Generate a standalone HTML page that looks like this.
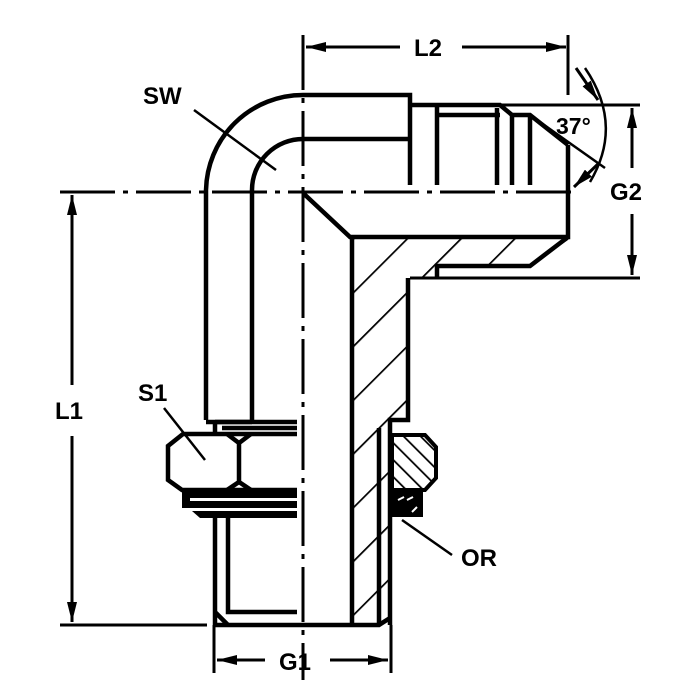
<!DOCTYPE html>
<html><head><meta charset="utf-8"><style>html,body{margin:0;padding:0;background:#fff}svg{display:block}</style></head>
<body>
<svg width="700" height="700" viewBox="0 0 700 700" xmlns="http://www.w3.org/2000/svg" font-family="Liberation Sans, Arial, sans-serif">
<defs>
<pattern id="h1" patternUnits="userSpaceOnUse" width="38" height="38" patternTransform="rotate(45)">
<line x1="0" y1="0" x2="0" y2="38" stroke="#000" stroke-width="3.5"/>
</pattern>
<pattern id="h2" patternUnits="userSpaceOnUse" width="12" height="12" patternTransform="rotate(-45)">
<line x1="0" y1="0" x2="0" y2="12" stroke="#000" stroke-width="3.5"/>
</pattern>
<marker id="ar" viewBox="0 0 20 10" refX="20" refY="5" markerWidth="20" markerHeight="10" markerUnits="userSpaceOnUse" orient="auto-start-reverse"><path d="M0,0 L20,5 L0,10 Z" fill="#000"/></marker>
</defs>
<g fill="none" stroke="#000" stroke-linecap="butt">
<path d="M352,237 L568,237 L568,240 L530,266 L437,266 L437,278 L408,278 L408,420 L390,420 L390,625 L352,625 Z" fill="url(#h1)" stroke="none"/>
<g stroke-width="4.5">
<path d="M303,193 L350,237 L568,237 L568,145"/>
<path d="M352,237 L352,625"/>
<path d="M568,237 L530,266 L437,266 L437,278"/>
<path d="M408,278 L408,420 L390,420 L390,625"/>
<path d="M379,428 L379,625"/>
<path d="M215,625 L379,625 L390,618"/>
<path d="M206,420 L206,190 A97,97 0 0 1 303,95 L410,95 L410,185"/>
<path d="M252,420 L252,190 A51,51 0 0 1 303,139 L410,139"/>
<path d="M410,105 L500,105 L512,115 L530,115 L568,145"/>
<path d="M437,115 L500,115"/>
<path d="M437,105 L437,185 M497,108 L497,185 M512,115 L512,185 M530,115 L530,185"/>
<path d="M206,422 L252,422"/>
<path d="M215,422 L297,422 M222,428 L297,428 M215,422 L215,435"/>
<path d="M297,434 L183,434 L168,446 L168,480 L182,490 L297,490"/>
<path d="M227,434 L239,443 L251,434 M239,443 L239,482 M227,490 L239,482 L251,490"/>
<path d="M215,518 L215,625 M228,518 L228,612 L297,612 M215,612 L228,625"/>
</g>
<path d="M410,278 L640,278" stroke-width="3"/>
<rect x="182" y="490" width="115" height="8" fill="#000" stroke="none"/>
<rect x="182" y="501" width="115" height="7" fill="#000" stroke="none"/>
<rect x="182" y="490" width="8" height="18" fill="#000" stroke="none"/>
<path d="M192,511 L297,511 L297,518 L200,518 Z" fill="#000" stroke="none"/>
<path d="M392,435 L425,435 L436,447 L436,478 L425,490 L392,490 Z" fill="url(#h2)" stroke="#000" stroke-width="4"/>
<rect x="392" y="490" width="31" height="27" fill="#000" stroke="none"/>
<path d="M398,500 L404,497 M407,500 L413,497 M412,512 L417,507" stroke="#fff" stroke-width="2"/>
<path d="M60,192 L575,192" stroke-width="3" stroke-dasharray="55,8,5,8"/>
<path d="M303,35 L303,680" stroke-width="3" stroke-dasharray="55,8,5,8"/>
<g stroke-width="3">
<path d="M303,35 L303,60 M568,35 L568,95"/>
<path d="M306,47 L400,47" marker-start="url(#ar)"/>
<path d="M462,47 L566,47" marker-end="url(#ar)"/>
<path d="M60,625 L207,625"/>
<path d="M72,195 L72,385" marker-start="url(#ar)"/>
<path d="M72,436 L72,622" marker-end="url(#ar)"/>
<path d="M632,108 L632,168" marker-start="url(#ar)"/>
<path d="M632,214 L632,275" marker-end="url(#ar)"/>
<path d="M410,105 L640,105"/>
<path d="M214,625 L214,673 M391,625 L391,673"/>
<path d="M217,660 L265,660" marker-start="url(#ar)"/>
<path d="M330,660 L388,660" marker-end="url(#ar)"/>
<path d="M585,68 Q624,125 590,182" stroke-width="2.5"/>
<path d="M576,68 L598,100" marker-end="url(#ar)"/>
<path d="M598,164 L574,187" marker-end="url(#ar)"/>
<path d="M530,115 L605,168" stroke-width="2.5"/>
<path d="M194,110 L276,170" stroke-width="2.5"/>
<path d="M164,408 L205,460" stroke-width="2.5"/>
<path d="M402,520 L452,555" stroke-width="2.5"/>
</g>
</g>
<g fill="#000" font-size="24" font-weight="bold">
<text x="414" y="56">L2</text>
<text x="55" y="419">L1</text>
<text x="610" y="200">G2</text>
<text x="279" y="670">G1</text>
<text x="556" y="134" font-size="23">37°</text>
<text x="143" y="104">SW</text>
<text x="138" y="401">S1</text>
<text x="461" y="566">OR</text>
</g>
</svg>
</body></html>
